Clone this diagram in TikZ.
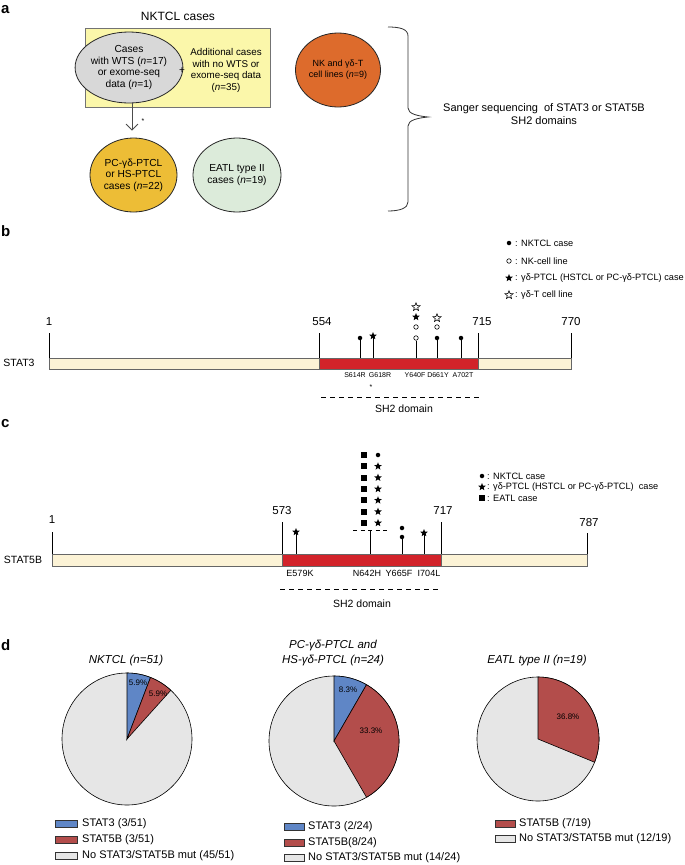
\documentclass[tikz,border=0pt]{standalone}
\usepackage{fontspec}
\setmainfont{Liberation Sans}
\usetikzlibrary{shapes.geometric,arrows.meta}

\definecolor{boxyellow}{HTML}{FBF7AA}
\definecolor{wtsgray}{HTML}{D8D8D8}
\definecolor{lineorange}{HTML}{DD6B2C}
\definecolor{gdgold}{HTML}{EDBD36}
\definecolor{eatlgreen}{HTML}{DCEBDA}
\definecolor{barcream}{HTML}{FCF3D6}
\definecolor{sh2red}{HTML}{D2232A}
\definecolor{pieblue}{HTML}{5F86C6}
\definecolor{piered}{HTML}{B34D4B}
\definecolor{piegray}{HTML}{E6E6E6}

\begin{document}
\begin{tikzpicture}[x=1pt,y=-1pt,
        panel/.style={font=\fontsize{15}{15}\selectfont\bfseries,inner sep=0pt,anchor=west},
        oval/.style={ellipse,draw=black!85,line width=0.8pt,inner sep=0pt,align=center,font=\fontsize{10.2}{11.5}\selectfont},
        num/.style={font=\fontsize{11.5}{12}\selectfont,inner sep=0pt},
        key/.style={font=\fontsize{9.2}{10}\selectfont,inner sep=0pt,anchor=west},
        mut/.style={font=\fontsize{7}{8}\selectfont,inner sep=0pt},
        mutc/.style={font=\fontsize{9}{10}\selectfont,inner sep=0pt},
        dot/.style={circle,fill=black,inner sep=0pt,minimum size=4.5pt},
        ring/.style={circle,draw=black,line width=0.6pt,inner sep=0pt,minimum size=4.5pt},
        fstar/.style={star,star points=5,star point ratio=2.3,fill=black,inner sep=0pt,minimum size=8pt},
        ostar/.style={star,star points=5,star point ratio=2.3,draw=black,line width=0.6pt,fill=white,inner sep=0pt,minimum size=8.5pt},
        sq/.style={rectangle,fill=black,inner sep=0pt,minimum size=6pt},
        stem/.style={line width=0.6pt},
        sh2line/.style={line width=0.7pt,dash pattern=on 5pt off 4pt},
        barline/.style={draw=black!60,line width=0.6pt},
        pieline/.style={draw=black,line width=0.6pt},
        legbox/.style={rectangle,draw=black!80,line width=0.6pt,inner sep=0pt,minimum width=20pt,minimum height=7pt},
        legtxt/.style={font=\fontsize{11}{12}\selectfont,inner sep=0pt,anchor=west},
        pct/.style={font=\fontsize{8}{9}\selectfont,inner sep=0pt},
        ttl/.style={font=\fontsize{11.5}{15}\selectfont\itshape,align=center}]
        \useasboundingbox[fill=white] (0,0) rectangle (685,865);

        % panel a
        \node[panel] (la) at (1,10) {a};
        \node[font=\fontsize{12}{13}\selectfont] (nktcl) at (178,16) {NKTCL cases};
        \node[draw=black!55,fill=boxyellow,line width=0.8pt,minimum width=185pt,minimum height=79pt,anchor=north west,inner sep=0pt] (cases) at (85,28) {};
        \node[oval,fill=wtsgray,minimum width=76pt,minimum height=71pt] (wts) at (129,67.5) {Cases\\with WTS (\textit{n}=17)\\or exome-seq\\data (\textit{n}=1)};
        \node[font=\fontsize{10}{10}\selectfont] (plus) at (182,71) {+};
        \node[align=center,font=\fontsize{9.8}{11.5}\selectfont] (extra) at (226,70.5) {Additional cases\\with no WTS or\\exome-seq data\\(\textit{n}=35)};
        \node[oval,fill=lineorange,minimum width=85pt,minimum height=74pt,font=\fontsize{9}{11}\selectfont] (cell) at (338,70) {NK and γδ-T\\cell lines (\textit{n}=9)};
        \node[oval,fill=gdgold,minimum width=87pt,minimum height=74pt] (gd) at (133.5,175) {PC-γδ-PTCL\\or HS-PTCL\\cases (\textit{n}=22)};
        \node[oval,fill=eatlgreen,minimum width=88pt,minimum height=74pt] (eatl) at (237,175) {EATL type II\\cases (\textit{n}=19)};
        \draw[black!70,line width=0.8pt,shorten >=7pt,-{Straight Barb[length=6pt,width=12pt]}] ([xshift=3pt]wts.south) -- ([xshift=3pt]wts.south |- gd.north);
        \node[font=\fontsize{7}{7}\selectfont] (ast) at (143,121) {*};
        % brace
        \coordinate (tip) at (428,117);
        \draw[black!80,line width=0.8pt] (388,27) .. controls (400,27) and (408,29) .. (408,36) -- (408,108) .. controls (408,114) and (418,116) .. (tip) .. controls (418,118) and (408,120) .. (408,126) -- (408,202) .. controls (408,208) and (400,211) .. (388,211);
        \node[font=\fontsize{11}{13}\selectfont,align=center] (sanger) at (544,114.5) {Sanger sequencing\ \ of STAT3 or STAT5B\\SH2 domains};

        % panel b
        \node[panel] (lb) at (1,231) {b};
        \node[dot] (kb1) at (509,243) {};
        \node[key] (tb1) at (515,243) {: NKTCL case};
        \node[ring] (kb2) at (509,261) {};
        \node[key] (tb2) at (515,261) {: NK-cell line};
        \node[fstar] (kb3) at (509,278) {};
        \node[key] (tb3) at (515,278) {: γδ-PTCL (HSTCL or PC-γδ-PTCL) case};
        \node[ostar] (kb4) at (509,295) {};
        \node[key] (tb4) at (515,295) {: γδ-T cell line};
        \node[num] (n1b) at (49,322) {1};
        \node[num] (n554) at (322,322) {554};
        \node[num] (n715) at (482,322) {715};
        \node[num] (n770) at (571,322) {770};
        \node[font=\fontsize{10.5}{12}\selectfont] (stat3) at (19,363) {STAT3};
        \filldraw[barline,fill=barcream] (49,358) rectangle (571,369);
        \filldraw[barline,fill=sh2red] (319,358) rectangle (478,369);
        \draw[stem] (49,333) -- (49,358);
        \draw[stem] (319,333) -- (319,358);
        \draw[stem] (478,333) -- (478,358);
        \draw[stem] (571,333) -- (571,358);
        % STAT3 mutations
        \coordinate (b614) at (360,358);
        \coordinate (b618) at (373,358);
        \coordinate (b640) at (416,358);
        \coordinate (b661) at (437,358);
        \coordinate (b702) at (461,358);
        \node[dot] (b614a) at (360,338) {};
        \node[fstar] (b618a) at (373,336) {};
        \node[ring] (b640a) at (416,338) {};
        \node[ring] (b640b) at (416,327) {};
        \node[fstar] (b640c) at (416,317) {};
        \node[ostar] (b640d) at (416,307) {};
        \node[dot] (b661a) at (437,338) {};
        \node[ring] (b661b) at (437,327) {};
        \node[ostar] (b661c) at (437,318) {};
        \node[dot] (b702a) at (461,338) {};
        \draw[stem] (b614) -- (b614a);
        \draw[stem] (b618) -- (b618a);
        \draw[stem] (b640) -- (b640a);
        \draw[stem] (b661) -- (b661a);
        \draw[stem] (b702) -- (b702a);
        \node[mut] (m614) at (355,375) {S614R};
        \node[mut] (m618) at (380,375) {G618R};
        \node[mut] (m640) at (415,375) {Y640F};
        \node[mut] (m661) at (438,375) {D661Y};
        \node[mut] (m702) at (463,375) {A702T};
        \node[font=\fontsize{7}{7}\selectfont] (astb) at (371,387) {*};
        \coordinate (sh2bl) at (321,397);
        \coordinate (sh2br) at (482,397);
        \draw[sh2line] (sh2bl) -- (sh2br);
        \node[font=\fontsize{10.5}{11}\selectfont] (sh2b) at (404,409) {SH2 domain};

        % panel c
        \node[panel] (lc) at (1,424) {c};
        \node[dot] (kc1) at (482,476) {};
        \node[key] (tc1) at (487,476) {: NKTCL case};
        \node[fstar] (kc2) at (482,487) {};
        \node[key] (tc2) at (487,487) {: γδ-PTCL (HSTCL or PC-γδ-PTCL)\ \ case};
        \node[sq] (kc3) at (482,498) {};
        \node[key] (tc3) at (487,498) {: EATL case};
        \node[num] (n1c) at (52,520) {1};
        \node[num] (n573) at (282,511) {573};
        \node[num] (n717) at (443,511) {717};
        \node[num] (n787) at (589,523) {787};
        \node[font=\fontsize{10.5}{12}\selectfont] (stat5b) at (23,560) {STAT5B};
        \filldraw[barline,fill=barcream] (52,554) rectangle (587,566);
        \filldraw[barline,fill=sh2red] (282,554) rectangle (441,566);
        \draw[stem] (52,532) -- (52,554);
        \draw[stem] (282,522) -- (282,554);
        \draw[stem] (441,522) -- (441,554);
        \draw[stem] (587,533) -- (587,554);
        % STAT5B mutations
        \coordinate (c579) at (296,554);
        \coordinate (c642) at (370,554);
        \coordinate (c665) at (402,554);
        \coordinate (c704) at (424,554);
        \node[fstar] (c579a) at (296,532) {};
        \foreach \i in {0,...,6}
            \node[sq] (c642s\i) at (364,{455+11.33*\i}) {};
        \node[dot] (c642d) at (378,455) {};
        \foreach \i in {1,...,6}
            \node[fstar] (c642t\i) at (378,{455+11.33*\i}) {};
        \coordinate (c642top) at (370,530);
        \coordinate (c642l) at (353,530);
        \coordinate (c642r) at (388,530);
        \draw[line width=0.6pt,dash pattern=on 4pt off 3.5pt] (c642l) -- (c642r);
        \node[dot] (c665a) at (402,537) {};
        \node[dot] (c665b) at (402,528) {};
        \node[fstar] (c704a) at (424,533) {};
        \draw[stem] (c579) -- (c579a);
        \draw[stem] (c642) -- (c642top);
        \draw[stem] (c665) -- (c665a);
        \draw[stem] (c704) -- (c704a);
        \node[mutc] (m579) at (300,573) {E579K};
        \node[mutc] (m642) at (367,573) {N642H};
        \node[mutc] (m665) at (399,573) {Y665F};
        \node[mutc] (m704) at (429,573) {I704L};
        \coordinate (sh2cl) at (280,589);
        \coordinate (sh2cr) at (441,589);
        \draw[sh2line] (sh2cl) -- (sh2cr);
        \node[font=\fontsize{10.5}{11}\selectfont] (sh2c) at (362,604) {SH2 domain};

        % panel d
        \node[panel] (ld) at (1,645) {d};
        \node[ttl] (t1) at (126,661) {NKTCL (n=51)};
        \node[ttl] (t2) at (333,653.5) {PC-γδ-PTCL and\\HS-γδ-PTCL (n=24)};
        \node[ttl] (t3) at (537,661) {EATL type II (n=19)};
        % NKTCL pie
        \coordinate (p1) at (127,739);
        \filldraw[pieline,fill=piegray] (p1) ellipse[x radius=65,y radius=66];
        \filldraw[pieline,fill=pieblue] (p1) -- +(270:65 and 66) arc[start angle=270,end angle=291.2,x radius=65,y radius=66] -- cycle;
        \filldraw[pieline,fill=piered] (p1) -- +(291.2:65 and 66) arc[start angle=291.2,end angle=312.4,x radius=65,y radius=66] -- cycle;
        \node[pct] (v1a) at (138,683) {5.9\%};
        \node[pct] (v1b) at (158,694) {5.9\%};
        % gamma-delta pie
        \coordinate (p2) at (334,741);
        \filldraw[pieline,fill=piegray] (p2) ellipse[x radius=65,y radius=65];
        \filldraw[pieline,fill=pieblue] (p2) -- +(270:65 and 65) arc[start angle=270,end angle=300,x radius=65,y radius=65] -- cycle;
        \filldraw[pieline,fill=piered] (p2) -- +(300:65 and 65) arc[start angle=300,end angle=420,x radius=65,y radius=65] -- cycle;
        \node[pct] (v2a) at (348,690) {8.3\%};
        \node[pct] (v2b) at (371,731) {33.3\%};
        % EATL pie
        \coordinate (p3) at (538,739);
        \filldraw[pieline,fill=piegray] (p3) ellipse[x radius=61,y radius=62];
        \filldraw[pieline,fill=piered] (p3) -- +(270:61 and 62) arc[start angle=270,end angle=382,x radius=61,y radius=62] -- cycle;
        \node[pct] (v3a) at (568,717) {36.8\%};
        % legends
        \node[legbox,minimum width=22pt,fill=pieblue] (l1a) at (66.5,824) {};
        \node[legtxt] (l1at) at (82,824) {STAT3 (3/51)};
        \node[legbox,minimum width=22pt,fill=piered] (l1b) at (66.5,840) {};
        \node[legtxt] (l1bt) at (82,840) {STAT5B (3/51)};
        \node[legbox,minimum width=22pt,fill=piegray] (l1c) at (66.5,856) {};
        \node[legtxt] (l1ct) at (82,856) {No STAT3/STAT5B mut (45/51)};
        \node[legbox,fill=pieblue] (l2a) at (294.5,827) {};
        \node[legtxt] (l2at) at (308,827) {STAT3 (2/24)};
        \node[legbox,fill=piered] (l2b) at (294.5,843) {};
        \node[legtxt] (l2bt) at (308,843) {STAT5B(8/24)};
        \node[legbox,fill=piegray] (l2c) at (294.5,858) {};
        \node[legtxt] (l2ct) at (308,858) {No STAT3/STAT5B mut (14/24)};
        \node[legbox,fill=piered] (l3a) at (505.5,824) {};
        \node[legtxt] (l3at) at (519,824) {STAT5B (7/19)};
        \node[legbox,fill=piegray] (l3b) at (505.5,839) {};
        \node[legtxt] (l3bt) at (519,839) {No STAT3/STAT5B mut (12/19)};
\end{tikzpicture}
\end{document}
